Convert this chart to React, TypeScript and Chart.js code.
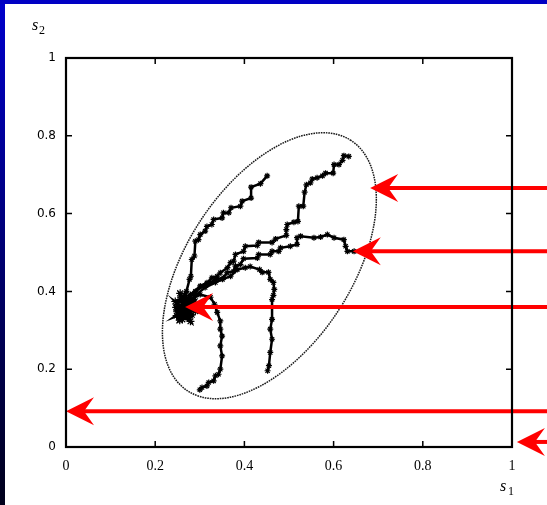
import React, { useEffect, useRef } from 'react';
import { Chart, registerables } from 'chart.js';

Chart.register(...registerables);

// ---- tick values ----
const xTickValues = [0, 0.2, 0.4, 0.6, 0.8, 1];
const yTickValues = [0, 0.2, 0.4, 0.6, 0.8, 1];

// ---- trajectories (s1, s2) ----
const trajectoryA: [number, number][] = [
  [0.451, 0.697], [0.436, 0.677], [0.415, 0.668], [0.415, 0.640], [0.395, 0.632],
  [0.391, 0.619], [0.370, 0.615], [0.365, 0.602], [0.353, 0.602], [0.350, 0.589],
  [0.331, 0.585], [0.327, 0.572], [0.316, 0.567], [0.312, 0.555], [0.301, 0.546],
  [0.297, 0.533], [0.290, 0.529], [0.288, 0.491], [0.282, 0.482], [0.280, 0.439],
  [0.277, 0.431], [0.270, 0.400], [0.263, 0.367],
];

const trajectoryB: [number, number][] = [
  [0.634, 0.747], [0.623, 0.749], [0.620, 0.737], [0.612, 0.726], [0.601, 0.726],
  [0.599, 0.704], [0.582, 0.704], [0.575, 0.697], [0.563, 0.692], [0.552, 0.689],
  [0.548, 0.679], [0.539, 0.674], [0.535, 0.655], [0.532, 0.619], [0.522, 0.619],
  [0.520, 0.580], [0.511, 0.578], [0.496, 0.572], [0.494, 0.559], [0.494, 0.544],
  [0.470, 0.535], [0.462, 0.526], [0.432, 0.526], [0.429, 0.518], [0.402, 0.516],
  [0.398, 0.503], [0.380, 0.495], [0.376, 0.478], [0.369, 0.474], [0.362, 0.461],
  [0.346, 0.448], [0.339, 0.439], [0.327, 0.435], [0.316, 0.422], [0.301, 0.414],
  [0.279, 0.392], [0.265, 0.369],
];

const trajectoryC: [number, number][] = [
  [0.646, 0.503], [0.631, 0.503], [0.627, 0.516], [0.623, 0.533], [0.601, 0.538],
  [0.586, 0.546], [0.571, 0.540], [0.556, 0.538], [0.526, 0.542], [0.518, 0.538],
  [0.518, 0.521], [0.503, 0.516], [0.481, 0.512], [0.477, 0.503], [0.462, 0.503],
  [0.458, 0.495], [0.432, 0.495], [0.429, 0.486], [0.398, 0.484], [0.391, 0.469],
  [0.380, 0.465], [0.376, 0.452], [0.361, 0.448], [0.353, 0.435], [0.335, 0.431],
  [0.324, 0.422], [0.309, 0.414], [0.290, 0.400], [0.270, 0.374],
];

const trajectoryD: [number, number][] = [
  [0.452, 0.196], [0.455, 0.209], [0.458, 0.243], [0.462, 0.277], [0.458, 0.303],
  [0.462, 0.328], [0.462, 0.379], [0.465, 0.390], [0.467, 0.405], [0.465, 0.423],
  [0.458, 0.431], [0.454, 0.449], [0.440, 0.449], [0.434, 0.456], [0.413, 0.464],
  [0.402, 0.461], [0.384, 0.456], [0.369, 0.439], [0.351, 0.431], [0.335, 0.423],
  [0.312, 0.410], [0.290, 0.390], [0.270, 0.364],
];

const trajectoryE: [number, number][] = [
  [0.300, 0.147], [0.305, 0.153], [0.316, 0.157], [0.320, 0.166], [0.331, 0.170],
  [0.335, 0.183], [0.342, 0.187], [0.346, 0.200], [0.350, 0.234], [0.346, 0.260],
  [0.350, 0.285], [0.346, 0.303], [0.346, 0.324], [0.339, 0.346], [0.333, 0.367],
  [0.324, 0.385], [0.301, 0.392], [0.279, 0.379], [0.265, 0.364],
];

const clusterPoints: [number, number][] = [
  [0.256, 0.379], [0.279, 0.354], [0.252, 0.341], [0.283, 0.367], [0.261, 0.328],
  [0.247, 0.359], [0.290, 0.349], [0.267, 0.390], [0.254, 0.333], [0.274, 0.333],
  [0.245, 0.374], [0.285, 0.379], [0.265, 0.349], [0.256, 0.395], [0.279, 0.323],
  [0.249, 0.349], [0.292, 0.364], [0.263, 0.374], [0.270, 0.338], [0.258, 0.356],
  [0.251, 0.366], [0.276, 0.344], [0.260, 0.386], [0.287, 0.356], [0.248, 0.338],
  [0.271, 0.362], [0.255, 0.326], [0.282, 0.340], [0.262, 0.358], [0.268, 0.372],
];

// ---- ellipse (centre and two conjugate semi-diameters, data units) ----
const ellipseCenter = [0.456, 0.466];
const ellipseAxisU = [0.183, 0.322];
const ellipseAxisV = [-0.155, 0.115];

// ---- red arrows: tip positions (data units), tails at the right edge ----
const arrowTipX = [0.682, 0.643, 0.267, 0.0, 1.011];
const arrowTipY = [0.666, 0.503, 0.360, 0.092, 0.013];

const framePlugin = {
  id: 'frame',
  beforeDraw(chart: any) {
    const { ctx, width, height } = chart;
    ctx.save();
    ctx.fillStyle = '#ffffff';
    ctx.fillRect(0, 0, width, height);
    const g = ctx.createLinearGradient(0, 0, 0, height);
    g.addColorStop(0, '#0000cc');
    g.addColorStop(1, '#00001a');
    ctx.fillStyle = g;
    ctx.fillRect(0, 0, 5, height);
    ctx.fillStyle = '#0000c4';
    ctx.fillRect(0, 0, width, 4);
    ctx.restore();
  },
};

const ellipsePlugin = {
  id: 'ellipse',
  beforeDatasetsDraw(chart: any) {
    const { ctx } = chart;
    const xs = chart.scales.x;
    const ys = chart.scales.y;
    const cx = xs.getPixelForValue(ellipseCenter[0]);
    const cy = ys.getPixelForValue(ellipseCenter[1]);
    const ux = xs.getPixelForValue(ellipseCenter[0] + ellipseAxisU[0]) - cx;
    const uy = ys.getPixelForValue(ellipseCenter[1] + ellipseAxisU[1]) - cy;
    const vx = xs.getPixelForValue(ellipseCenter[0] + ellipseAxisV[0]) - cx;
    const vy = ys.getPixelForValue(ellipseCenter[1] + ellipseAxisV[1]) - cy;
    ctx.save();
    ctx.beginPath();
    ctx.transform(ux, uy, vx, vy, cx, cy);
    ctx.arc(0, 0, 1, 0, Math.PI * 2);
    ctx.restore();
    ctx.save();
    ctx.setLineDash([1.6, 0.9]);
    ctx.lineWidth = 1.5;
    ctx.strokeStyle = '#1a1a1a';
    ctx.stroke();
    ctx.restore();
  },
};

const arrowPlugin = {
  id: 'arrows',
  afterDatasetsDraw(chart: any) {
    const { ctx, width } = chart;
    const xs = chart.scales.x;
    const ys = chart.scales.y;
    ctx.save();
    ctx.fillStyle = '#ff0000';
    ctx.strokeStyle = '#ff0000';
    for (let i = 0; i < arrowTipX.length; i++) {
      const px = xs.getPixelForValue(arrowTipX[i]);
      const py = ys.getPixelForValue(arrowTipY[i]);
      ctx.lineWidth = 4;
      ctx.beginPath();
      ctx.moveTo(px + 15, py);
      ctx.lineTo(width + 2, py);
      ctx.stroke();
      ctx.beginPath();
      ctx.moveTo(px, py);
      ctx.lineTo(px + 28, py - 14);
      ctx.lineTo(px + 18, py);
      ctx.lineTo(px + 28, py + 14);
      ctx.closePath();
      ctx.fill();
    }
    ctx.restore();
  },
};

const boxPlugin = {
  id: 'box',
  afterDraw(chart: any) {
    const { ctx, chartArea } = chart;
    const { left, right, top, bottom } = chartArea;
    const xs = chart.scales.x;
    const ys = chart.scales.y;
    ctx.save();
    ctx.strokeStyle = '#000';
    ctx.lineWidth = 1.5;
    ctx.beginPath();
    for (const v of xTickValues.slice(1, -1)) {
      const p = xs.getPixelForValue(v);
      ctx.moveTo(p, bottom);
      ctx.lineTo(p, bottom - 6);
      ctx.moveTo(p, top);
      ctx.lineTo(p, top + 6);
    }
    for (const v of yTickValues.slice(1, -1)) {
      const p = ys.getPixelForValue(v);
      ctx.moveTo(left, p);
      ctx.lineTo(left + 6, p);
      ctx.moveTo(right, p);
      ctx.lineTo(right - 6, p);
    }
    ctx.stroke();
    ctx.lineWidth = 2.2;
    ctx.strokeRect(left, top, right - left, bottom - top);

    // axis titles s2 and s1
    ctx.fillStyle = '#000';
    ctx.textBaseline = 'alphabetic';
    ctx.textAlign = 'left';
    ctx.font = 'italic 16px "Liberation Serif", serif';
    ctx.fillText('s', 32, 30);
    ctx.fillText('s', 500, 491);
    ctx.font = '12px "Liberation Serif", serif';
    ctx.fillText('2', 39, 34);
    ctx.fillText('1', 508, 495);
    ctx.restore();
  },
};

const toPoints = (arr: [number, number][]) => arr.map(([x, y]) => ({ x, y }));

const lineDataset = (arr: [number, number][], width = 2.5, radius = 3) => ({
  data: toPoints(arr),
  showLine: true,
  borderColor: '#000',
  borderWidth: width,
  pointStyle: 'star',
  pointRadius: radius,
  pointBorderColor: '#000',
  pointBackgroundColor: '#000',
  pointBorderWidth: 1.2,
  tension: 0,
});

export default function App() {
  const canvasRef = useRef<HTMLCanvasElement | null>(null);

  useEffect(() => {
    document.body.style.margin = '0';
    const canvas = canvasRef.current;
    if (!canvas) return;
    const chart = new Chart(canvas, {
      type: 'scatter',
      data: {
        datasets: [
          lineDataset(trajectoryA),
          lineDataset(trajectoryB),
          lineDataset(trajectoryC),
          lineDataset(trajectoryD),
          lineDataset(trajectoryE),
          lineDataset(clusterPoints, 3.5, 4),
        ] as any,
      },
      options: {
        responsive: false,
        animation: false,
        devicePixelRatio: 1,
        events: [],
        layout: { padding: { left: 0, top: 58, right: 35, bottom: 0 } },
        plugins: { legend: { display: false }, tooltip: { enabled: false } },
        scales: {
          x: {
            type: 'linear',
            min: 0,
            max: 1,
            afterBuildTicks: (s: any) => {
              s.ticks = xTickValues.map((v) => ({ value: v }));
            },
            afterFit: (s: any) => {
              s.height = 58;
            },
            ticks: {
              color: '#000',
              padding: 11,
              maxRotation: 0,
              autoSkip: false,
              font: { family: '"Liberation Serif", serif', size: 14 },
              callback: (v: any) => String(v),
            },
            grid: { display: false, drawTicks: false },
            border: { display: false },
          },
          y: {
            type: 'linear',
            min: 0,
            max: 1,
            afterBuildTicks: (s: any) => {
              s.ticks = yTickValues.map((v) => ({ value: v }));
            },
            afterFit: (s: any) => {
              s.width = 66;
            },
            ticks: {
              color: '#000',
              padding: 10,
              autoSkip: false,
              font: { family: '"DejaVu Sans", sans-serif', size: 12 },
              callback: (v: any) => String(v),
            },
            grid: { display: false, drawTicks: false },
            border: { display: false },
          },
        },
      },
      plugins: [framePlugin, ellipsePlugin, arrowPlugin, boxPlugin],
    } as any);
    return () => chart.destroy();
  }, []);

  return (
    <div style={{ position: 'absolute', left: 0, top: 0, width: 547, height: 505 }}>
      <canvas ref={canvasRef} width={547} height={505} style={{ display: 'block' }} />
    </div>
  );
}
